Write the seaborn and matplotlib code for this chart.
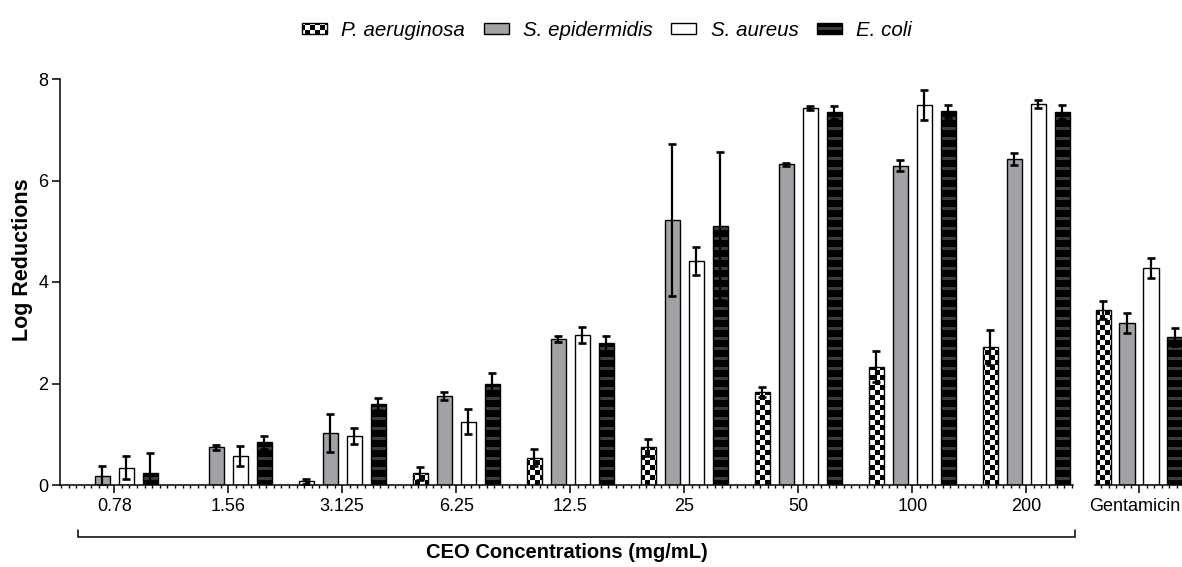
import warnings
import numpy as np
import pandas as pd
import matplotlib
matplotlib.use("Agg")
import matplotlib.pyplot as plt
import matplotlib.patches as mpatches
import matplotlib.hatch as mhatch
import matplotlib.transforms as mtransforms
from matplotlib.path import Path
from matplotlib.ticker import MultipleLocator
from matplotlib.container import BarContainer
import seaborn as sns

warnings.filterwarnings("ignore")

# ---------------- data ----------------
concentrations = ["0.78", "1.56", "3.125", "6.25", "12.5", "25", "50", "100", "200"]
control = ["Gentamicin"]
strains = ["P. aeruginosa", "S. epidermidis", "S. aureus", "E. coli"]

nan = np.nan
p_aer_mean = [nan, nan, 0.07, 0.23, 0.54, 0.74, 1.84, 2.33, 2.71, 3.45]
p_aer_err = [nan, nan, 0.05, 0.13, 0.17, 0.16, 0.10, 0.31, 0.34, 0.18]
s_epi_mean = [0.18, 0.74, 1.03, 1.76, 2.87, 5.22, 6.32, 6.29, 6.42, 3.19]
s_epi_err = [0.19, 0.05, 0.37, 0.08, 0.06, 1.49, 0.03, 0.11, 0.12, 0.20]
s_aur_mean = [0.34, 0.57, 0.97, 1.25, 2.96, 4.41, 7.43, 7.49, 7.51, 4.27]
s_aur_err = [0.23, 0.20, 0.16, 0.24, 0.16, 0.27, 0.04, 0.30, 0.08, 0.20]
e_coli_mean = [0.24, 0.84, 1.59, 2.00, 2.79, 5.10, 7.34, 7.36, 7.35, 2.91]
e_coli_err = [0.40, 0.13, 0.12, 0.21, 0.15, 1.46, 0.13, 0.13, 0.14, 0.18]

y_ticks = [0, 2, 4, 6, 8]

means = [p_aer_mean, s_epi_mean, s_aur_mean, e_coli_mean]
errs = [p_aer_err, s_epi_err, s_aur_err, e_coli_err]
all_cats = concentrations + control

rows = []
for s, m in zip(strains, means):
    for c, v in zip(all_cats, m):
        rows.append({"cat": c, "strain": s, "value": v})
df = pd.DataFrame(rows)

# ---------------- custom fill patterns ----------------
class CheckerHatch(mhatch.HatchPatternBase):
    cells = 20

    def __init__(self, hatch, density):
        self.on = "c" in hatch
        self.num_vertices = (self.cells * self.cells // 2) * 5 if self.on else 0

    def set_vertices_and_codes(self, vertices, codes):
        s = 1.0 / self.cells
        sq = [(i, j) for i in range(self.cells) for j in range(self.cells) if (i + j) % 2 == 0]
        for k, (i, j) in enumerate(sq):
            x0, y0 = i * s, j * s
            vertices[5 * k:5 * k + 5] = [(x0, y0), (x0 + s, y0), (x0 + s, y0 + s), (x0, y0 + s), (x0, y0)]
            codes[5 * k] = Path.MOVETO
            codes[5 * k + 1:5 * k + 4] = Path.LINETO
            codes[5 * k + 4] = Path.CLOSEPOLY


class BandHatch(mhatch.HatchPatternBase):
    bands = 10

    def __init__(self, hatch, density):
        self.on = "h" in hatch
        self.num_vertices = self.bands * 5 if self.on else 0

    def set_vertices_and_codes(self, vertices, codes):
        p = 1.0 / self.bands
        for k in range(self.bands):
            y0 = k * p + 0.3 * p
            y1 = (k + 1) * p
            vertices[5 * k:5 * k + 5] = [(0, y0), (1, y0), (1, y1), (0, y1), (0, y0)]
            codes[5 * k] = Path.MOVETO
            codes[5 * k + 1:5 * k + 4] = Path.LINETO
            codes[5 * k + 4] = Path.CLOSEPOLY


mhatch._hatch_types.append(CheckerHatch)
mhatch._hatch_types.append(BandHatch)

styles = {
    "P. aeruginosa": dict(facecolor="white", hatch="c"),
    "S. epidermidis": dict(facecolor="#a2a2a6", hatch=None),
    "S. aureus": dict(facecolor="white", hatch=None),
    "E. coli": dict(facecolor="#3c3c3e", hatch="h"),
}

# ---------------- figure ----------------
sns.set_style("ticks")
plt.rcParams["font.family"] = ["Liberation Sans", "DejaVu Sans"]
plt.rcParams["hatch.linewidth"] = 0.01
for k in ("text.color", "axes.labelcolor", "xtick.color", "ytick.color", "axes.edgecolor"):
    plt.rcParams[k] = "black"

fig = plt.figure(figsize=(11.82, 5.67), dpi=100)
W, H = 1182.0, 567.0
y0_px, y8_px = 485.0, 79.0
ax = fig.add_axes([60 / W, (H - y0_px) / H, 1013 / W, (y0_px - y8_px) / H])
ax2 = fig.add_axes([1095 / W, (H - y0_px) / H, 87 / W, (y0_px - y8_px) / H], sharey=ax)

palette = {s: styles[s]["facecolor"] for s in strains}

sns.barplot(data=df[df["cat"].isin(concentrations)], x="cat", y="value", hue="strain",
            order=concentrations, hue_order=strains, palette=palette, width=0.84, gap=0.37,
            errorbar=None, legend=False, ax=ax)
sns.barplot(data=df[df["cat"].isin(control)], x="cat", y="value", hue="strain",
            order=control, hue_order=strains, palette=palette, width=0.84, gap=0.37,
            errorbar=None, legend=False, ax=ax2)

for a, offset in ((ax, 0), (ax2, len(concentrations))):
    bar_conts = [c for c in a.containers if isinstance(c, BarContainer)]
    for i, cont in enumerate(bar_conts):
        st = styles[strains[i]]
        xs, ys, es = [], [], []
        for bar in cont:
            bar.set_facecolor(st["facecolor"])
            bar.set_edgecolor("black")
            bar.set_linewidth(1.0)
            if st["hatch"]:
                bar.set_hatch(st["hatch"])
            h = bar.get_height()
            if np.isnan(h):
                continue
            xc = bar.get_x() + bar.get_width() / 2
            cat = int(round(xc))
            e = errs[i][offset + cat]
            if np.isnan(e):
                continue
            xs.append(xc)
            ys.append(h)
            es.append(e)
        if xs:
            a.errorbar(xs, ys, yerr=es, fmt="none", ecolor="black", elinewidth=1.6,
                       capsize=3.0, capthick=1.9, zorder=5)

# axes styling
ax.set_xlim(-0.476, 8.41)
ax2.set_xlim(-0.386, 0.377)
ax.set_ylim(0, 8)
ax.set_yticks(y_ticks)
ax.set_yticklabels([str(t) for t in y_ticks])

for a in (ax, ax2):
    for sp in ("top", "right"):
        a.spines[sp].set_visible(False)
    a.spines["bottom"].set_linewidth(1.1)
    a.spines["left"].set_linewidth(1.1)
    a.tick_params(axis="x", which="major", length=6, width=1.1, pad=3.5, labelsize=13, color="black",
                  labelcolor="black")
    a.xaxis.set_minor_locator(MultipleLocator(1 / 15))
    a.tick_params(axis="x", which="minor", length=2.2, width=1.0, color="black")
    a.set_xlabel("")
    a.set_ylabel("")

ax2.spines["left"].set_visible(False)
ax2.tick_params(axis="y", which="both", left=False, labelleft=False)
ax.tick_params(axis="y", length=6, width=1.1, pad=2.5, labelsize=13, color="black", labelcolor="black")

# keep the "Gentamicin" label inside the canvas
shift = mtransforms.ScaledTranslation(-4 / 100, 0, fig.dpi_scale_trans)
for lab in ax2.get_xticklabels():
    lab.set_transform(lab.get_transform() + shift)

ax.set_ylabel("Log Reductions", fontsize=15.5, fontweight="bold", color="black")
ax.yaxis.set_label_coords(-0.027, 0.554)
ax.set_xlabel("CEO Concentrations (mg/mL)", fontsize=14.5, fontweight="bold", color="black")
ax.xaxis.set_label_coords(0.5, -0.143)

# bracket under the concentration groups
bx0, bx1 = 0.0178, 1.002
by, byt = -0.128, -0.111
ax.plot([bx0, bx0, bx1, bx1], [byt, by, by, byt], transform=ax.transAxes,
        color="black", lw=1.1, clip_on=False, solid_joinstyle="miter")

# legend
handles = [mpatches.Patch(facecolor=styles[s]["facecolor"], edgecolor="black",
                          hatch=styles[s]["hatch"], linewidth=1.0, label=s) for s in strains]
fig.legend(handles=handles, loc="center", bbox_to_anchor=(607 / W, 0.947), ncol=4,
           frameon=False, prop={"size": 14.8, "style": "italic"},
           handlelength=1.22, handleheight=0.45, handletextpad=0.7, columnspacing=0.9)

fig.savefig("out.png", dpi=100)
